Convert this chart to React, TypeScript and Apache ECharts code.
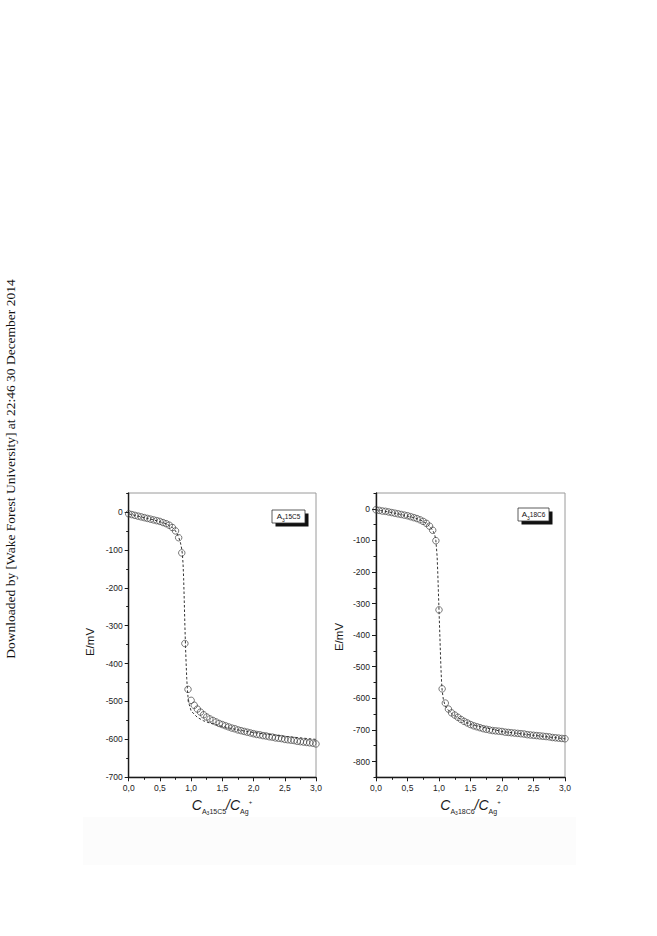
import React, { useEffect, useRef } from "react";
import * as echarts from "echarts";

// ---- Data ----
const leftX = [0, 0.05, 0.1, 0.15, 0.2, 0.25, 0.3, 0.35, 0.4, 0.45, 0.5, 0.55, 0.6, 0.65, 0.7, 0.75, 0.8, 0.85, 0.9, 0.95, 1.0, 1.05, 1.1, 1.15, 1.2, 1.25, 1.3, 1.35, 1.4, 1.45, 1.5, 1.55, 1.6, 1.65, 1.7, 1.75, 1.8, 1.85, 1.9, 1.95, 2.0, 2.05, 2.1, 2.15, 2.2, 2.25, 2.3, 2.35, 2.4, 2.45, 2.5, 2.55, 2.6, 2.65, 2.7, 2.75, 2.8, 2.85, 2.9, 2.95, 3.0];
const leftY = [-5, -7, -9, -11, -13, -15, -17, -19, -21, -23, -25, -28, -31, -35, -41, -50, -68, -108, -347, -468, -497, -510, -520, -528, -535, -541, -546, -550, -554, -558, -561, -564, -567, -570, -572, -575, -577, -579, -581, -583, -585, -587, -588, -590, -591, -593, -594, -596, -597, -598, -600, -601, -602, -603, -605, -606, -607, -608, -609, -610, -612];
const leftFitX = [0, 0.2, 0.4, 0.6, 0.7, 0.75, 0.8, 0.83, 0.85, 0.86, 0.87, 0.88, 0.89, 0.9, 0.91, 0.92, 0.93, 0.94, 0.95, 0.97, 1.0, 1.1, 1.2, 1.3, 1.5, 1.75, 2.0, 2.5, 3.0];
const leftFitY = [-5, -13, -21, -31, -41, -50, -66, -82, -98, -112, -135, -175, -235, -300, -355, -400, -440, -468, -488, -508, -525, -542, -551, -557, -566, -575, -582, -592, -600];

const rightX = [0, 0.05, 0.1, 0.15, 0.2, 0.25, 0.3, 0.35, 0.4, 0.45, 0.5, 0.55, 0.6, 0.65, 0.7, 0.75, 0.8, 0.85, 0.9, 0.95, 1.0, 1.05, 1.1, 1.15, 1.2, 1.25, 1.3, 1.35, 1.4, 1.45, 1.5, 1.55, 1.6, 1.65, 1.7, 1.75, 1.8, 1.85, 1.9, 1.95, 2.0, 2.05, 2.1, 2.15, 2.2, 2.25, 2.3, 2.35, 2.4, 2.45, 2.5, 2.55, 2.6, 2.65, 2.7, 2.75, 2.8, 2.85, 2.9, 2.95, 3.0];
const rightY = [-3, -5, -7, -8, -10, -12, -14, -16, -18, -20, -22, -25, -28, -31, -35, -40, -46, -55, -68, -101, -320, -570, -615, -634, -646, -653, -660, -667, -673, -678, -683, -687, -690, -693, -696, -698, -700, -702, -703, -704, -705, -707, -708, -709, -710, -711, -712, -713, -715, -716, -717, -718, -719, -720, -721, -722, -724, -725, -726, -727, -728];
const rightFitX = [0, 0.2, 0.4, 0.6, 0.7, 0.8, 0.85, 0.9, 0.93, 0.95, 0.97, 0.98, 0.99, 1.0, 1.01, 1.02, 1.03, 1.04, 1.05, 1.07, 1.1, 1.15, 1.2, 1.3, 1.5, 2.0, 2.5, 3.0];
const rightFitY = [-3, -10, -18, -28, -35, -46, -55, -68, -80, -100, -150, -200, -260, -320, -380, -440, -500, -545, -575, -605, -624, -638, -648, -661, -683, -705, -717, -728];

const xTickValues = [0, 0.5, 1.0, 1.5, 2.0, 2.5, 3.0];
const leftYTicks = [-700, -600, -500, -400, -300, -200, -100, 0];
const rightYTicks = [-800, -700, -600, -500, -400, -300, -200, -100, 0];

const FONT = "'Liberation Sans', Arial, sans-serif";

function zip(xs: number[], ys: number[]) {
  return xs.map((x, i) => [x, ys[i]]);
}

const xLabelFmt = (v: number) => v.toFixed(1).replace(".", ",");

function makeXAxis(gridIndex: number) {
  return {
    type: "value",
    gridIndex,
    position: "bottom",
    min: 0,
    max: 3,
    interval: 0.5,
    axisLine: { show: true, onZero: false, lineStyle: { color: "#1a1a1a", width: 1.4 } },
    axisTick: { show: true, inside: false, length: 4, lineStyle: { color: "#1a1a1a", width: 1 } },
    minorTick: { show: true, splitNumber: 2, length: 2.5, lineStyle: { color: "#1a1a1a", width: 1 } },
    splitLine: { show: false },
    axisLabel: {
      fontSize: 8.5,
      fontFamily: FONT,
      color: "#222",
      margin: 6,
      customValues: xTickValues,
      formatter: xLabelFmt,
    },
  };
}

function makeYAxes(gridIndex: number, min: number, max: number, ticks: number[]) {
  return [
    {
      type: "value",
      gridIndex,
      position: "left",
      min,
      max,
      axisLine: { show: true, onZero: false, lineStyle: { color: "#1a1a1a", width: 1.4 } },
      axisTick: { show: true, inside: false, length: 4, customValues: ticks, lineStyle: { color: "#1a1a1a", width: 1 } },
      splitLine: { show: false },
      axisLabel: {
        fontSize: 8.5,
        fontFamily: FONT,
        color: "#222",
        margin: 6,
        customValues: ticks,
        formatter: (v: number) => String(v),
      },
    },
    {
      type: "value",
      gridIndex,
      position: "left",
      offset: 0,
      min,
      max,
      interval: 50,
      axisLine: { show: false, onZero: false },
      axisTick: { show: true, inside: false, length: 2.5, lineStyle: { color: "#1a1a1a", width: 1 } },
      splitLine: { show: false },
      axisLabel: { show: false },
    },
  ];
}

function xTitle(cx: number, cy: number, sub: string) {
  const it = { fontStyle: "italic", fontFamily: FONT, fill: "#1a1a1a", color: "#1a1a1a", verticalAlign: "bottom" };
  return {
    type: "text",
    x: cx,
    y: cy,
    style: {
      text: `{c|C}{s|A}{ss|3}{s|${sub}}{c|/C}{s|Ag}{sup|+}`,
      align: "center",
      textAlign: "center",
      verticalAlign: "middle",
      textVerticalAlign: "middle",
      rich: {
        c: { ...it, fontSize: 14, padding: [0, 0, 3, 0] },
        s: { ...it, fontStyle: "normal", fontSize: 7, padding: [0, 0, 0, 0] },
        ss: { ...it, fontStyle: "normal", fontSize: 5, padding: [0, 0, -1, 0] },
        sup: { ...it, fontStyle: "normal", fontSize: 6, padding: [0, 0, 10, 0] },
      },
    },
  };
}

function yTitle(cx: number, cy: number) {
  return {
    type: "text",
    x: cx,
    y: cy,
    rotation: Math.PI / 2,
    style: {
      text: "E/mV",
      fontSize: 11.5,
      fontFamily: FONT,
      fill: "#1a1a1a",
      align: "center",
      textAlign: "center",
      verticalAlign: "middle",
      textVerticalAlign: "middle",
    },
  };
}

function labelBox(x: number, y: number, w: number, h: number, sub: string) {
  const base = { fontFamily: FONT, fill: "#111", color: "#111", verticalAlign: "bottom" };
  return [
    { type: "rect", shape: { x: x + 3.5, y: y + 3.5, width: w, height: h }, style: { fill: "#111" } },
    { type: "rect", shape: { x, y, width: w, height: h }, style: { fill: "#fff", stroke: "#333", lineWidth: 0.8 } },
    {
      type: "text",
      x: x + w / 2,
      y: y + h / 2 + 0.5,
      style: {
        text: `{a|A}{s|3}{b|${sub}}`,
        align: "center",
        textAlign: "center",
        verticalAlign: "middle",
        textVerticalAlign: "middle",
        rich: {
          a: { ...base, fontSize: 8, padding: [0, 0, 1, 0] },
          s: { ...base, fontSize: 5, padding: [0, 0, -1, 0] },
          b: { ...base, fontSize: 6.5, padding: [0, 0, 1.5, 0] },
        },
      },
    },
  ];
}

export default function App() {
  const ref = useRef<HTMLDivElement>(null);

  useEffect(() => {
    if (!ref.current) return;
    const chart = echarts.init(ref.current, null, { renderer: "svg" });

    const gridCommon = { show: true, borderColor: "#9a9a9a", borderWidth: 1, backgroundColor: "transparent", containLabel: false };
    const scatterStyle = { color: "rgba(255,255,255,0)", borderColor: "#444", borderWidth: 0.9 };
    const fitLine = { color: "#333", width: 1, type: [2.5, 2] };

    const option: any = {
      animation: false,
      backgroundColor: "#ffffff",
      grid: [
        { ...gridCommon, left: 128.7, top: 493, width: 187.3, height: 284.3 },
        { ...gridCommon, left: 376, top: 493, width: 189, height: 284.3 },
      ],
      xAxis: [makeXAxis(0), makeXAxis(1)],
      yAxis: [...makeYAxes(0, -700, 50, leftYTicks), ...makeYAxes(1, -850, 50, rightYTicks)],
      series: [
        {
          type: "scatter",
          xAxisIndex: 0,
          yAxisIndex: 0,
          data: zip(leftX, leftY),
          symbol: "circle",
          symbolSize: 6.5,
          itemStyle: scatterStyle,
          z: 3,
        },
        {
          type: "line",
          xAxisIndex: 0,
          yAxisIndex: 0,
          data: zip(leftFitX, leftFitY),
          symbol: "none",
          showSymbol: false,
          lineStyle: fitLine,
          z: 4,
        },
        {
          type: "scatter",
          xAxisIndex: 1,
          yAxisIndex: 2,
          data: zip(rightX, rightY),
          symbol: "circle",
          symbolSize: 6.5,
          itemStyle: scatterStyle,
          z: 3,
        },
        {
          type: "line",
          xAxisIndex: 1,
          yAxisIndex: 2,
          data: zip(rightFitX, rightFitY),
          symbol: "none",
          showSymbol: false,
          lineStyle: fitLine,
          z: 4,
        },
      ],
      graphic: [
        {
          type: "rect",
          z: -10,
          shape: { x: 83, y: 817, width: 493, height: 48 },
          style: { fill: "#fcfcfc" },
          silent: true,
        },
        {
          type: "text",
          x: 10,
          y: 469,
          rotation: Math.PI / 2,
          style: {
            text: "Downloaded by [Wake Forest University] at 22:46 30 December 2014",
            fontSize: 13.5,
            fontFamily: "'Liberation Serif', 'Times New Roman', serif",
            fill: "#111",
            align: "center",
            textAlign: "center",
            verticalAlign: "middle",
            textVerticalAlign: "middle",
          },
        },
        yTitle(90, 642),
        yTitle(339, 637),
        xTitle(222, 806, "15C5"),
        xTitle(470.5, 806, "18C6"),
        ...labelBox(272, 510, 33, 13, "15C5"),
        ...labelBox(518, 508, 31, 13, "18C6"),
      ],
    };

    chart.setOption(option);
    return () => {
      chart.dispose();
    };
  }, []);

  return (
    <div
      ref={ref}
      style={{ position: "absolute", left: 0, top: 0, width: 657, height: 936, background: "#fff" }}
    />
  );
}
